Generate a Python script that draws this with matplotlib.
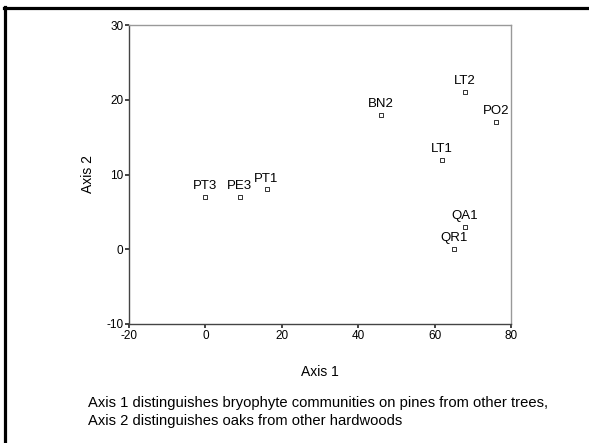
import matplotlib
matplotlib.use("Agg")
import matplotlib.pyplot as plt
from matplotlib.lines import Line2D

plt.rcParams['font.family'] = ['Liberation Sans', 'DejaVu Sans']
plt.rcParams['axes.unicode_minus'] = False

# ordination scores
labels = ["PT3", "PE3", "PT1", "BN2", "LT2", "PO2", "LT1", "QA1", "QR1"]
axis1 = [0, 9, 16, 46, 68, 76, 62, 68, 65]
axis2 = [7, 7, 8, 18, 21, 17, 12, 3, 0]

xticks = [-20, 0, 20, 40, 60, 80]
yticks = [-10, 0, 10, 20, 30]

W, H = 589, 443
fig = plt.figure(figsize=(W / 100, H / 100), dpi=100)
ax = fig.add_axes([129 / W, 1 - 324 / H, (511 - 129) / W, (324 - 25) / H])

ax.scatter(axis1, axis2, marker="s", s=9, facecolors="white",
           edgecolors="#333333", linewidths=0.7, zorder=3)
for lab, x, y in zip(labels, axis1, axis2):
    ax.annotate(lab, (x, y), xytext=(0, 3.5), textcoords="offset points",
                ha="center", va="bottom", fontsize=9.5)

ax.set_xlim(-20, 80)
ax.set_ylim(-10, 30)
ax.set_xticks(xticks)
ax.set_yticks(yticks)
ax.tick_params(direction="out", length=3, width=1.2, labelsize=8.5, pad=1,
               color="#222222")

for side in ["left", "bottom"]:
    ax.spines[side].set_color("#444444")
    ax.spines[side].set_linewidth(1.0)
for side in ["top", "right"]:
    ax.spines[side].set_color("#999999")
    ax.spines[side].set_linewidth(1.0)

fig.text(320 / W, 1 - 372 / H, "Axis 1", ha="center", va="center", fontsize=10)
fig.text(88 / W, 1 - 174 / H, "Axis 2", ha="center", va="center",
         rotation=90, fontsize=10)
fig.text(88 / W, 1 - 403 / H,
         "Axis 1 distinguishes bryophyte communities on pines from other trees,",
         ha="left", va="center", fontsize=10.6)
fig.text(88 / W, 1 - 421 / H,
         "Axis 2 distinguishes oaks from other hardwoods",
         ha="left", va="center", fontsize=10.6)

# frame around the figure (only top and left edges show)
fig.add_artist(Line2D([4.5 / W, 4.5 / W], [0, 1 - 6.5 / H], color="black",
                      linewidth=2.3, transform=fig.transFigure))
fig.add_artist(Line2D([3.5 / W, 1], [1 - 7.5 / H, 1 - 7.5 / H], color="black",
                      linewidth=2.3, transform=fig.transFigure))

fig.savefig("out.png", dpi=100)
